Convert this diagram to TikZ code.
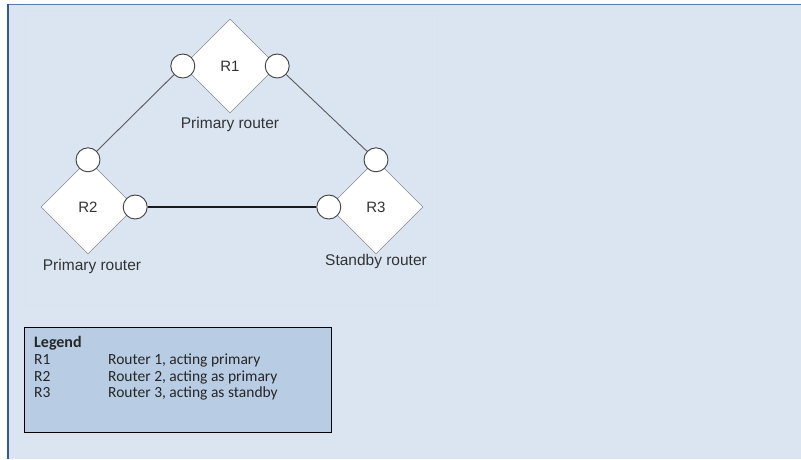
\documentclass[tikz,border=0pt]{standalone}
\usepackage{fontspec}
\setmainfont{Liberation Sans}
\newfontfamily\diafont{Liberation Sans}
\newfontfamily\legfont{Carlito}
\usetikzlibrary{shapes.geometric}
\definecolor{panel}{HTML}{DBE5F1}
\definecolor{innerln}{HTML}{D5E3F3}
\definecolor{frameblue}{HTML}{2F5A96}
\definecolor{legfill}{HTML}{B8CCE4}
\definecolor{shapeln}{HTML}{6A6A6A}
\definecolor{txtgray}{HTML}{333333}
\tikzset{
  router/.style={draw=shapeln, fill=white, shape=diamond, aspect=1,
    minimum width=94pt, minimum height=94pt, inner sep=0pt,
    font=\diafont\fontsize{15}{17}\selectfont, text=txtgray},
  port/.style={draw=black!75, fill=white, circle, minimum size=24pt, inner sep=0pt, line width=0.9pt},
  link/.style={draw=black!65, line width=0.9pt},
  rlabel/.style={font=\diafont\fontsize{15.5}{17}\selectfont, text=txtgray},
  legtxt/.style={font=\legfont\fontsize{15.5}{17}\selectfont, anchor=base west, inner sep=0pt, text=black!85}
}
\begin{document}
\begin{tikzpicture}[x=1pt,y=-1pt]
\useasboundingbox (0,0) rectangle (801,459);
\fill[white] (0,0) rectangle (801,459);
\fill[panel] (8,4) rectangle (801,459);
\draw[innerln, line width=0.8pt] (25,10) rectangle (437,305);
\draw[frameblue!80, line width=1pt] (8,4.5) -- (801,4.5);
\draw[frameblue, line width=2pt] (8,4) -- (8,459);

% routers
\node[router] (r1) at (230,66) {R1};
\node[router] (r2) at (88,207) {R2};
\node[router] (r3) at (376,207) {R3};

% ports
\node[port] (p1l) at (r1.west) {};
\node[port] (p1r) at (r1.east) {};
\node[port] (p2t) at (r2.north) {};
\node[port] (p2r) at (r2.east) {};
\node[port] (p3t) at (r3.north) {};
\node[port] (p3l) at (r3.west) {};

% links
\draw[link] (p1l) -- (p2t);
\draw[link] (p1r) -- (p3t);
\draw[link, draw=black!90, line width=1.1pt] (p2r) -- (p3l);

% labels
\node[rlabel] (l1) at (230,124) {Primary router};
\node[rlabel] (l2) at (92,266) {Primary router};
\node[rlabel] (l3) at (376,261) {Standby router};

% legend
\node[draw=black, line width=1pt, fill=legfill, minimum width=307pt, minimum height=105pt, anchor=north west, inner sep=0pt] (leg) at (24,327) {};
\node[legtxt, font=\legfont\bfseries\fontsize{16}{17}\selectfont] (lt) at (34,347) {Legend};
\node[legtxt] (k1) at (34,364) {R1};
\node[legtxt] (k2) at (34,381) {R2};
\node[legtxt] (k3) at (34,397.5) {R3};
\node[legtxt] (d1) at (108,364) {Router 1, acting primary};
\node[legtxt] (d2) at (108,381) {Router 2, acting as primary};
\node[legtxt] (d3) at (108,397.5) {Router 3, acting as standby};
\end{tikzpicture}
\end{document}
